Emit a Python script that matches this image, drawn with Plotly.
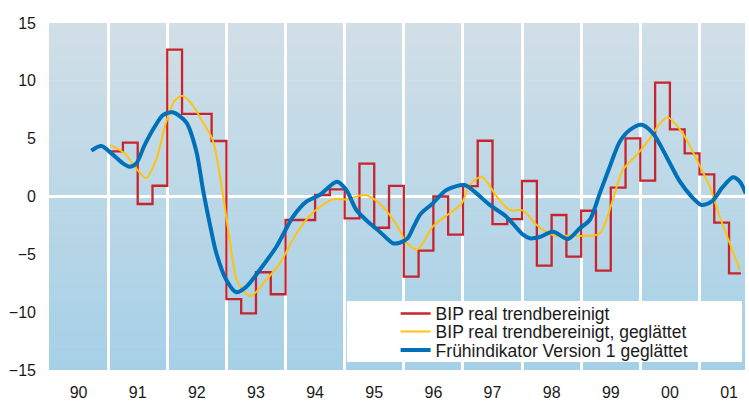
import plotly.graph_objects as go

# ---------------- data ----------------
years = list(range(1990, 2002))
year_labels = ["90", "91", "92", "93", "94", "95", "96", "97", "98", "99", "00", "01"]

# BIP real trendbereinigt (quarterly, starting 1991 Q1)
red_start = 1991.0
red_end = 2001.7
red_values = [3.9, 4.65, -0.65, 0.93,
              12.7, 7.15, 7.15, 4.8,
              -8.87, -10.1, -6.55, -8.45,
              -2.03, -2.03, 0.13, 0.62,
              -1.89, 2.84, -2.7, 0.91,
              -6.93, -4.68, 0.0, -3.3,
              0.9, 4.82, -2.38, -1.95,
              1.34, -5.98, -1.6, -5.2,
              -1.23, -6.41, 0.76, 5.03,
              1.37, 9.84, 5.81, 3.73,
              1.92, -2.26, -6.64]

# BIP real trendbereinigt, geglättet
yel_t = [1991.037, 1991.279, 1991.448, 1991.643, 1991.820, 1991.973, 1992.125, 1992.260,
         1992.412, 1992.582, 1992.768, 1992.937, 1993.055, 1993.190, 1993.410, 1993.676,
         1993.901, 1994.183, 1994.459, 1994.797, 1995.034, 1995.339, 1995.592, 1995.880,
         1996.049, 1996.235, 1996.489, 1996.776, 1996.979, 1997.115, 1997.318, 1997.571,
         1997.791, 1998.011, 1998.248, 1998.519, 1998.806, 1999.094, 1999.314, 1999.534,
         1999.703, 1999.940, 2000.159, 2000.329, 2000.464, 2000.718, 2000.955, 2001.174,
         2001.343, 2001.513, 2001.682]
yel_v = [4.45, 3.75, 2.6, 1.6, 3.3, 6.3, 8.3, 8.7,
         8.0, 6.6, 4.9, 0.3, -3.7, -7.4, -8.6, -7.2,
         -5.8, -3.2, -1.4, -0.25, -0.25, 0.13, -0.6, -2.46,
         -4.0, -4.56, -2.6, -1.45, -0.6, 1.0, 1.71, 0.0,
         -1.17, -1.2, -2.46, -3.33, -3.4, -3.4, -3.2, -0.3,
         2.3, 3.6, 5.0, 6.3, 6.84, 5.46, 3.15, 0.85,
         -1.75, -4.04, -6.35]

# Frühindikator Version 1 geglättet
blue_t = [1990.716, 1990.885, 1991.054, 1991.250, 1991.364, 1991.477, 1991.617, 1991.787,
          1991.927, 1992.091, 1992.323, 1992.492, 1992.604, 1992.717, 1992.830, 1992.999,
          1993.168, 1993.338, 1993.563, 1993.845, 1994.126, 1994.353, 1994.577, 1994.870,
          1995.029, 1995.198, 1995.423, 1995.592, 1995.817, 1995.931, 1996.066, 1996.167,
          1996.286, 1996.489, 1996.721, 1997.030, 1997.228, 1997.453, 1997.735, 1998.016,
          1998.130, 1998.299, 1998.524, 1998.777, 1998.975, 1999.144, 1999.314, 1999.483,
          1999.652, 1999.821, 2000.019, 2000.215, 2000.442, 2000.667, 2000.865, 2001.034,
          2001.203, 2001.399, 2001.568, 2001.682, 2001.783]
blue_v = [3.96, 4.36, 3.73, 2.87, 2.58, 2.87, 4.45, 6.03,
          7.04, 7.28, 6.4, 3.9, 0.6, -2.32, -4.91, -7.22,
          -8.28, -7.8, -6.35, -4.34, -1.75, -0.45, 0.13, 1.28,
          0.56, -1.17, -2.32, -3.04, -4.04, -4.0, -3.6, -2.6,
          -1.5, -0.6, 0.56, 0.99, 0.27, -0.73, -1.75, -3.3,
          -3.61, -3.5, -3.04, -3.67, -2.75, -2.03, 0.27, 2.58,
          4.74, 5.75, 6.2, 5.46, 3.44, 1.3, 0.0, -0.73,
          -0.45, 0.85, 1.66, 1.28, 0.27]

y_ticks = [-15, -10, -5, 0, 5, 10, 15]

# ---------------- figure ----------------
FONT = "Liberation Sans, Arial, sans-serif"
RED = "#c8242d"
YELLOW = "#ffc20e"
BLUE = "#0070b9"

red_x = [red_start + 0.25 * i for i in range(len(red_values))] + [red_end]
red_y = red_values + [red_values[-1]]

fig = go.Figure()
fig.add_trace(go.Scatter(x=red_x, y=red_y, mode="lines", line=dict(color=RED, width=2.3, shape="hv"),
                         name="BIP real trendbereinigt", legend="legend"))
fig.add_trace(go.Scatter(x=yel_t, y=yel_v, mode="lines", line=dict(color=YELLOW, width=2, shape="spline", smoothing=0.8),
                         name="BIP real trendbereinigt, geglättet", legend="legend2"))
fig.add_trace(go.Scatter(x=blue_t, y=blue_v, mode="lines", line=dict(color=BLUE, width=4, shape="spline", smoothing=0.8),
                         name="Frühindikator Version 1 geglättet", legend="legend3"))

# background gradient bands
top_c = (209, 223, 231)
bot_c = (166, 208, 231)
n = 60
shapes = []
for i in range(n):
    f = i / (n - 1)
    c = tuple(round(bot_c[k] + (top_c[k] - bot_c[k]) * f) for k in range(3))
    shapes.append(dict(type="rect", xref="paper", yref="paper", x0=0, x1=1,
                       y0=i / n, y1=min(1.0, (i + 1) / n + 0.002), line=dict(width=0),
                       fillcolor="rgb(%d,%d,%d)" % c, layer="below"))
# white legend box
shapes.append(dict(type="rect", xref="paper", yref="paper", x0=0.428, x1=0.9957,
                   y0=0.0231, y1=0.1988, line=dict(width=0), fillcolor="white", layer="above"))

leg_common = dict(xanchor="left", yanchor="middle", bgcolor="rgba(0,0,0,0)",
                  font=dict(family=FONT, size=17.5, color="#1a1a1a"), borderwidth=0)

fig.update_layout(
    width=749, height=402,
    margin=dict(l=49, r=4, t=23, b=32, autoexpand=False),
    paper_bgcolor="white", plot_bgcolor="rgba(0,0,0,0)",
    shapes=shapes,
    showlegend=True,
    legend=dict(x=0.498, y=0.1625, **leg_common),
    legend2=dict(x=0.498, y=0.1104, **leg_common),
    legend3=dict(x=0.498, y=0.0576, **leg_common),
    xaxis=dict(range=[1990, 2001.77], tickvals=[y + 0.5 for y in years], ticktext=year_labels,
               showgrid=False, zeroline=False, showline=False, ticks="", automargin=False,
               tickfont=dict(family=FONT, size=16, color="#1a1a1a"), ticklabelstandoff=11,
               minor=dict(tick0=1990, dtick=1, showgrid=True, gridcolor="white", gridwidth=3)),
    yaxis=dict(range=[-15, 15], tickvals=y_ticks, showgrid=False, zeroline=True, automargin=False,
               zerolinecolor="white", zerolinewidth=3, showline=False, ticks="",
               tickfont=dict(family=FONT, size=16, color="#1a1a1a"), ticklabelstandoff=12),
)

fig.write_html("out.html", config={"displayModeBar": False},
               post_script="document.body.style.margin='0';document.body.style.padding='0';"
                           "document.documentElement.style.overflow='hidden';")
